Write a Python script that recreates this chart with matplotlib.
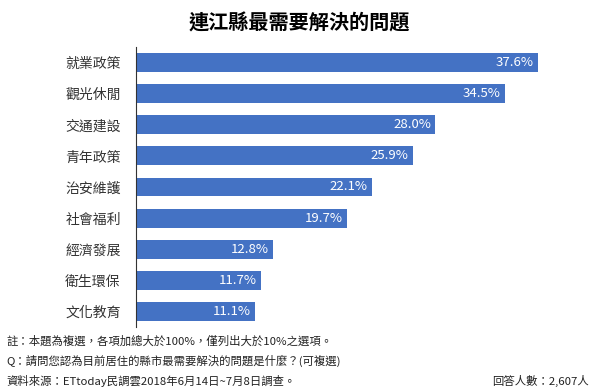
import matplotlib
matplotlib.use("Agg")
from matplotlib import pyplot as plt

plt.rcParams['font.family'] = ['Noto Sans CJK TC', 'DejaVu Sans']

title = "連江縣最需要解決的問題"
categories = ["就業政策", "觀光休閒", "交通建設", "青年政策", "治安維護",
              "社會福利", "經濟發展", "衛生環保", "文化教育"]
values = [37.6, 34.5, 28.0, 25.9, 22.1, 19.7, 12.8, 11.7, 11.1]
notes = [
    "註：本題為複選，各項加總大於100%，僅列出大於10%之選項。",
    "Q：請問您認為目前居住的縣市最需要解決的問題是什麼？(可複選)",
    "資料來源：ETtoday民調雲2018年6月14日~7月8日調查。",
]
respondents = "回答人數：2,607人"

W, H = 600, 392
fig = plt.figure(figsize=(W / 100, H / 100), dpi=100)
ax = fig.add_axes([136 / W, 1 - 327 / H, 444 / W, 280 / H])

pos = list(range(len(categories)))
bars = ax.barh(pos, values, height=0.61, color="#4472C4")
for b, v in zip(bars, values):
    ax.text(b.get_width() - 0.4, b.get_y() + b.get_height() / 2, f"{v:.1f}%",
            ha="right", va="center", color="white", fontsize=9.5)

ax.set_xlim(0, 444 / 10.69)
ax.set_ylim(8.5, -0.5)
ax.set_yticks(pos)
ax.set_yticklabels(categories, fontsize=10, color="#333333")
ax.tick_params(axis="y", length=0, pad=11)
ax.set_xticks([])
for s in ["top", "right", "bottom"]:
    ax.spines[s].set_visible(False)
ax.spines["left"].set_color("#333333")
ax.spines["left"].set_linewidth(0.8)

fig.text(0.498, 1 - 23 / H, title, ha="center", va="center",
         fontsize=14.5, fontweight="bold")
for i, line in enumerate(notes):
    fig.text(6 / W, 1 - (341 + 20 * i) / H, line, ha="left", va="center",
             fontsize=8.2, color="#222222")
fig.text(589 / W, 1 - 381 / H, respondents, ha="right", va="center",
         fontsize=8.2, color="#222222")

fig.savefig("out.png", dpi=100)
